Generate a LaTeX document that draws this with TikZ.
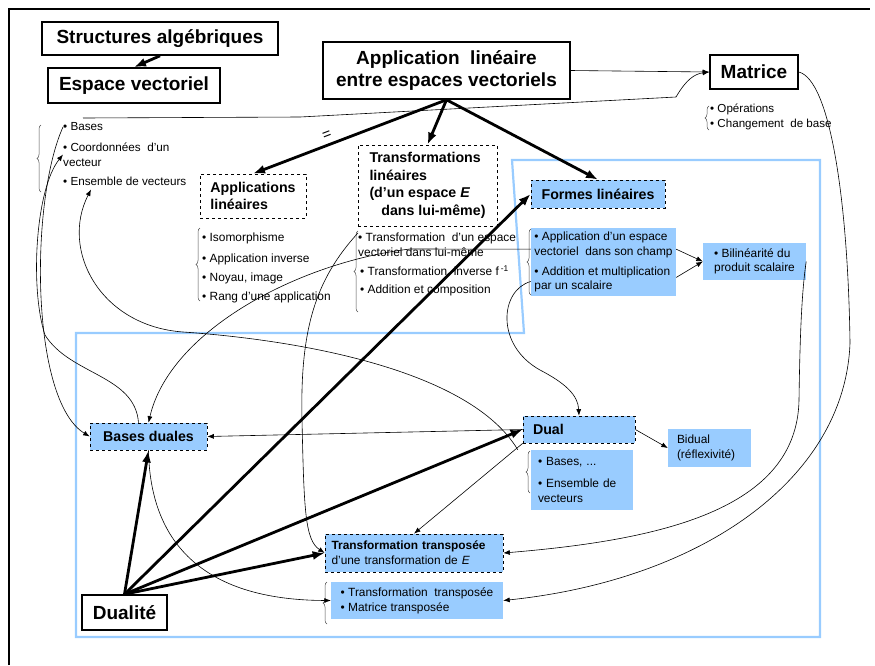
\documentclass[tikz,border=0pt]{standalone}
\usepackage{fontspec}
\setmainfont{Liberation Sans}
\usepackage{xcolor}
\usetikzlibrary{arrows.meta,decorations.pathreplacing}
\definecolor{bleuclair}{RGB}{153,204,255}

\begin{document}
\begin{tikzpicture}[x=1pt,y={(0pt,-1pt)},
    grand/.style={draw,line width=1.6pt,fill=white,inner sep=0pt,align=center,
        font=\fontsize{19}{22}\selectfont\bfseries},
    pointille/.style={draw,dashed,line width=0.7pt,fill=white,inner sep=0pt,align=left,
        font=\fontsize{14.2}{17.5}\selectfont\bfseries},
    bleu/.style={fill=bleuclair,inner ysep=0pt,inner xsep=2pt,align=left,
        font=\fontsize{11.9}{14.5}\selectfont},
    bleupt/.style={bleu,draw,dashed,line width=0.7pt,font=\fontsize{14.2}{17}\selectfont\bfseries},
    puce/.style={anchor=west,inner sep=0pt,align=left,font=\fontsize{11.9}{15}\selectfont},
    fleche/.style={-{Latex[length=12pt,width=9pt]},line width=2.8pt},
    lien/.style={-{Latex[length=6.5pt,width=5pt]},line width=0.6pt},
    accolade/.style={decorate,decoration={brace,amplitude=4pt},line width=0.5pt,black!70}]
\useasboundingbox (0,0) rectangle (875,665);
\draw[line width=1.5pt] (9,665) -- (9,9) -- (870,9);
\draw[bleuclair,line width=2.2pt] (76,333) -- (524,333) -- (512,160) -- (820,160) -- (820,637) -- (76,637) -- cycle;

\node[grand,minimum width=236pt,minimum height=33pt] (struct) at (160,38.5) {Structures algébriques};
\node[grand,minimum width=172pt,minimum height=35pt] (espace) at (134,85.5) {Espace vectoriel};
\node[grand,minimum width=247pt,minimum height=57pt] (appli) at (446.5,70.5) {Application\ \ linéaire\\entre espaces vectoriels};
\node[grand,minimum width=88pt,minimum height=34pt] (matrice) at (754,72) {Matrice};
\node[puce,font=\fontsize{11.6}{15}\selectfont] (op) at (710,109) {• Opérations};
\node[puce,font=\fontsize{11.6}{15}\selectfont] (chgt) at (710,124) {• Changement\ \ de base};

\node[puce,font=\fontsize{11.7}{15}\selectfont] (bases) at (63,127) {• Bases};
\node[puce,font=\fontsize{11.7}{15}\selectfont] (coord) at (63,154.5) {• Coordonnées\ \ d'un\\vecteur};
\node[puce,font=\fontsize{11.7}{15}\selectfont] (ens) at (63,181) {• Ensemble de vecteurs};
\coordinate (depart) at (83,118);

\node[pointille,minimum width=106pt,minimum height=44pt] (applin) at (253,196) {Applications\\linéaires};
\node[puce] (iso) at (202,238) {• Isomorphisme};
\node[puce] (inv) at (202,259) {• Application inverse};
\node[puce] (noyau) at (202,278) {• Noyau, image};
\node[puce] (rang) at (202,297) {• Rang d'une application};

\node[pointille,minimum width=139pt,minimum height=81pt] (transf) at (427.5,185.5) {Transformations\\linéaires\\(d'un espace \textit{E}\\\ \ \ dans lui-même)};
\node[puce] (tdun) at (358,245) {• Transformation\ \ d'un espace\\vectoriel dans lui-même};
\node[puce] (tinv) at (360,271) {• Transformation\ \ inverse f\,\textsuperscript{-1}};
\node[puce] (tadd) at (360,290) {• Addition et composition};

\node[bleupt,minimum width=134pt,minimum height=28pt] (formes) at (598,194) {Formes linéaires};
\node[bleu,minimum width=145pt,minimum height=68pt] (champ) at (603.5,262) {• Application d'un espace\\vectoriel\ \ dans son champ\\[5.5pt]• Addition et multiplication\\par un scalaire};
\node[bleu,minimum width=103pt,minimum height=37pt,font=\fontsize{11.9}{14}\selectfont] (bilin) at (754.5,261.5) {• Bilinéarité du\\produit scalaire};

\node[bleupt,minimum width=117pt,minimum height=27pt] (basesd) at (148.5,436.5) {Bases duales};
\node[bleupt,text width=92pt,inner xsep=10pt,minimum height=27pt] (dual) at (579,429.5) {Dual};
\node[bleu,text width=88pt,inner xsep=7pt,minimum height=60pt] (duallist) at (582,480) {• Bases, ...\\[7.5pt]• Ensemble de\\vecteurs};
\node[bleu,text width=65pt,inner xsep=9pt,minimum height=38pt,font=\fontsize{11.9}{15}\selectfont] (bidual) at (709.5,448) {Bidual\\(réflexivité)};
\node[bleupt,font=\fontsize{11.9}{15}\selectfont,text width=165pt,inner xsep=6.5pt,minimum height=38pt] (ttransp) at (414,553) {\textbf{Transformation transposée}\\d'une transformation de \textit{E}};
\node[bleu,minimum width=172pt,minimum height=37pt,font=\fontsize{11.9}{15}\selectfont] (tlist) at (417,600.5) {• Transformation\ \ transposée\\• Matrice transposée};
\node[grand,minimum width=85pt,minimum height=35pt] (dualite) at (124.5,612.5) {Dualité};

\draw[accolade] (41,192) -- (41,125);
\draw[accolade] (709,130) -- (709,106);
\draw[accolade] (200,301) -- (200,228);
\draw[accolade] (358,312) -- (358,231);
\draw[accolade] (531,295) -- (531,229);
\draw[accolade] (530,493) -- (530,451);
\draw[accolade] (327,624) -- (327,582);

\draw[fleche] (struct.south) -- (espace.north);
\draw[fleche] (appli.south) -- node[pos=0.6,above=1pt,sloped,font=\fontsize{15}{15}\selectfont]{=} (applin.north);
\draw[fleche] (appli.south) -- (transf.north);
\draw[fleche] (appli.south) -- (formes.north);
\draw[lien] (appli.east) -- (matrice.west);
\draw[lien] (depart) -- (300,117) -- (676,97) .. controls (686,80) and (694,74) .. (matrice.west);

\draw[lien] (bases.west) .. controls (30,200) and (30,400) .. (basesd.west);
\draw[lien] ([xshift=-10pt]basesd.north) .. controls (135,375) and (70,375) .. (45,335) .. controls (30,290) and (35,190) .. (coord.west);
\draw[lien] ([xshift=-13pt]duallist.north west) .. controls (470,370) and (300,340) .. (183,332) .. controls (100,326) and (60,250) .. ([xshift=28pt,yshift=-4pt]ens.south west);
\draw[lien] (champ.170) -- (410,249) .. controls (300,262) and (170,330) .. (basesd.north);
\draw[lien] (champ.195) .. controls (500,290) and (495,345) .. (540,370) .. controls (565,383) and (578,395) .. (dual.north);
\draw[lien] (champ.10) -- (bilin.west);
\draw[lien] (champ.-12) -- (bilin.west);
\draw[lien] (tdun.north west) .. controls (315,280) and (300,330) .. (302,420) .. controls (304,510) and (305,540) .. (ttransp.west);
\draw[lien] (dual.west) -- (basesd.east);
\draw[lien] (dual.south west) -- (ttransp.north);
\draw[lien] (dual.east) -- (bidual.west);
\draw[lien] (matrice.east) .. controls (830,80) and (848,200) .. (850,343) .. controls (845,480) and (700,580) .. (tlist.east);
\draw[lien] (bilin.east) .. controls (802,290) and (800,330) .. (799,400) .. controls (797,510) and (660,540) .. (ttransp.east);
\draw[lien] (basesd.south) .. controls (150,540) and (200,600) .. (tlist.west);

\draw[fleche] (dualite.north) -- (basesd.south);
\draw[fleche] (dualite.north) -- (formes.west);
\draw[fleche] (dualite.north) -- (dual.west);
\draw[fleche] (dualite.north) -- (ttransp.west);
\end{tikzpicture}
\end{document}
